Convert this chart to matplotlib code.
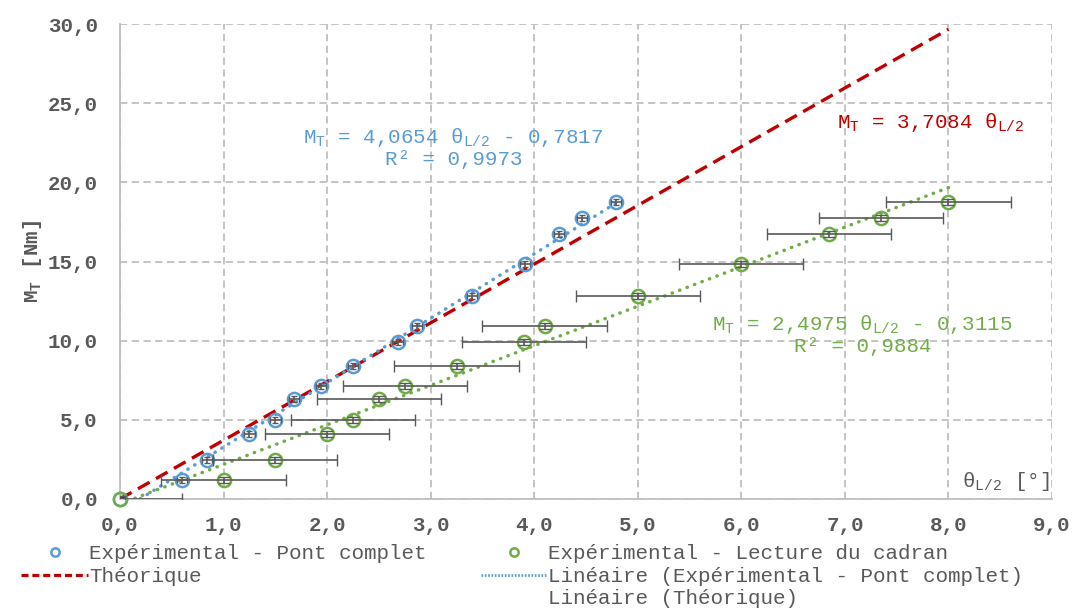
import matplotlib
matplotlib.use("Agg")
import matplotlib.pyplot as plt
import numpy as np
from matplotlib.ticker import FuncFormatter, MultipleLocator
from matplotlib.lines import Line2D

plt.rcParams['font.family'] = ['Liberation Mono', 'DejaVu Sans']
plt.rcParams['mathtext.fontset'] = 'custom'
plt.rcParams['mathtext.rm'] = 'Liberation Mono'
plt.rcParams['mathtext.it'] = 'Liberation Mono'

# couple mesuré [Nm]
couple = [0.0, 1.2, 2.46, 4.1, 5.0, 6.3, 7.14, 8.4, 9.92, 10.93, 12.82, 14.85, 16.74, 17.75, 18.76]
# angle mesuré par pont complet [°]
angle_pont = [0.0, 0.6, 0.84, 1.25, 1.5, 1.68, 1.94, 2.25, 2.68, 2.87, 3.4, 3.91, 4.24, 4.46, 4.79]
angle_cadran = [0.0, 1.0, 1.5, 2.0, 2.25, 2.5, 2.75, 3.25, 3.9, 4.1, 5.0, 6.0, 6.85, 7.35, 8.0]

err_pont_x = 0.05
err_cadran_x = 0.6
err_y = 0.2

k_theo = 3.7084
a_pont, b_pont = 4.0654, -0.7817
a_cad, b_cad = 2.4975, -0.3115

bleu = '#5B9BD5'
vert = '#70AD47'
rouge = '#C00000'
gris = '#595959'

fig = plt.figure(figsize=(10.74, 6.08), dpi=100)
ax = fig.add_axes([120 / 1074, 1 - 499 / 608, 932 / 1074, 475 / 608])

# droite théorique
xt = np.linspace(0, 8, 50)
ax.plot(xt, k_theo * xt, color=rouge, lw=2.4, dashes=(4, 2.2), zorder=3)

# tendances linéaires
xp = np.linspace(0, max(angle_pont), 50)
ax.plot(xp, a_pont * xp + b_pont, color=bleu, lw=2.5, ls=(0, (0.1, 2.2)),
        dash_capstyle='round', zorder=3)
xc = np.linspace(0, max(angle_cadran), 80)
ax.plot(xc, a_cad * xc + b_cad, color=vert, lw=2.5, ls=(0, (0.1, 2.2)),
        dash_capstyle='round', zorder=3)

# points expérimentaux
ax.plot(angle_pont, couple, 'o', mfc='none', mec=bleu, mew=1.8, ms=9.5,
        clip_on=False, zorder=4)
ax.errorbar(angle_pont, couple, xerr=err_pont_x, yerr=err_y, fmt='none',
            ecolor=gris, elinewidth=1.2, capsize=2.5, zorder=5)
ax.plot(angle_cadran, couple, 'o', mfc='none', mec=vert, mew=1.8, ms=9.5,
        clip_on=False, zorder=4)
ax.errorbar(angle_cadran, couple, xerr=err_cadran_x, yerr=err_y, fmt='none',
            ecolor=gris, elinewidth=1.2, capsize=4, zorder=5)

ax.set_xlim(0, 9)
ax.set_ylim(0, 30)
ax.xaxis.set_major_locator(MultipleLocator(1))
ax.yaxis.set_major_locator(MultipleLocator(5))
fmt = FuncFormatter(lambda v, p: f"{v:.1f}".replace('.', ','))
ax.xaxis.set_major_formatter(fmt)
ax.yaxis.set_major_formatter(fmt)
ax.tick_params(length=0, labelsize=15, labelcolor=gris)
ax.tick_params(axis='y', pad=16)
ax.tick_params(axis='x', pad=12)
for lab in ax.get_xticklabels() + ax.get_yticklabels():
    lab.set_fontweight('bold')

ax.grid(True, color='#BFBFBF', ls=(0, (4, 2.5)), lw=1.3)
ax.set_axisbelow(True)
for s in ['top', 'right']:
    ax.spines[s].set_visible(False)
for s in ['left', 'bottom']:
    ax.spines[s].set_color('#BFBFBF')
    ax.spines[s].set_linewidth(1.3)

ax.set_ylabel(r'M$_\mathregular{T}$ [Nm]', fontsize=15, color=gris,
              fontweight='bold', labelpad=3)
ax.text(8.13, 0.35, r'θ$_\mathregular{L/2}$ [°]', fontsize=15, color=gris,
        ha='left', va='bottom', zorder=6,
        bbox=dict(facecolor='white', edgecolor='none', pad=1))

# équations
ax.text(3.22, 22.2, r'M$_\mathregular{T}$ = 4,0654 θ$_\mathregular{L/2}$ - 0,7817' + '\n' + 'R² = 0,9973',
        color=bleu, fontsize=15, ha='center', va='center', linespacing=1.05)
ax.text(7.83, 23.75, r'M$_\mathregular{T}$ = 3,7084 θ$_\mathregular{L/2}$',
        color=rouge, fontsize=15, ha='center', va='center')
ax.text(7.17, 10.4, r'M$_\mathregular{T}$ = 2,4975 θ$_\mathregular{L/2}$ - 0,3115' + '\n' + 'R² = 0,9884',
        color=vert, fontsize=15, ha='center', va='center', linespacing=1.05)

# légende
h_pont = Line2D([], [], ls='none', marker='o', mfc='none', mec=bleu, mew=1.8, ms=6)
h_cad = Line2D([], [], ls='none', marker='o', mfc='none', mec=vert, mew=1.8, ms=6)
h_theo = Line2D([], [], color=rouge, lw=2.3, dashes=(2.2, 1.2))
h_lin_pont = Line2D([], [], color=bleu, lw=2.0, ls=(0, (0.6, 0.6)))
h_vide = Line2D([], [], color='none')
h_lin_theo = Line2D([], [], color='none')
handles = [h_pont, h_theo, h_vide, h_cad, h_lin_pont, h_lin_theo]
labels = ['Expérimental - Pont complet', 'Théorique', '',
          'Expérimental - Lecture du cadran',
          'Linéaire (Expérimental - Pont complet)', 'Linéaire (Théorique)']
leg = fig.legend(handles, labels, ncol=2, loc='upper left',
                 bbox_to_anchor=(15 / 1074, 1 - 538 / 608), frameon=False,
                 fontsize=15, handlelength=3.2, handletextpad=0.05,
                 columnspacing=2.6, labelspacing=0.17, borderaxespad=0,
                 borderpad=0.3)
for t in leg.get_texts():
    t.set_color(gris)

fig.savefig('out.png', dpi=100)
